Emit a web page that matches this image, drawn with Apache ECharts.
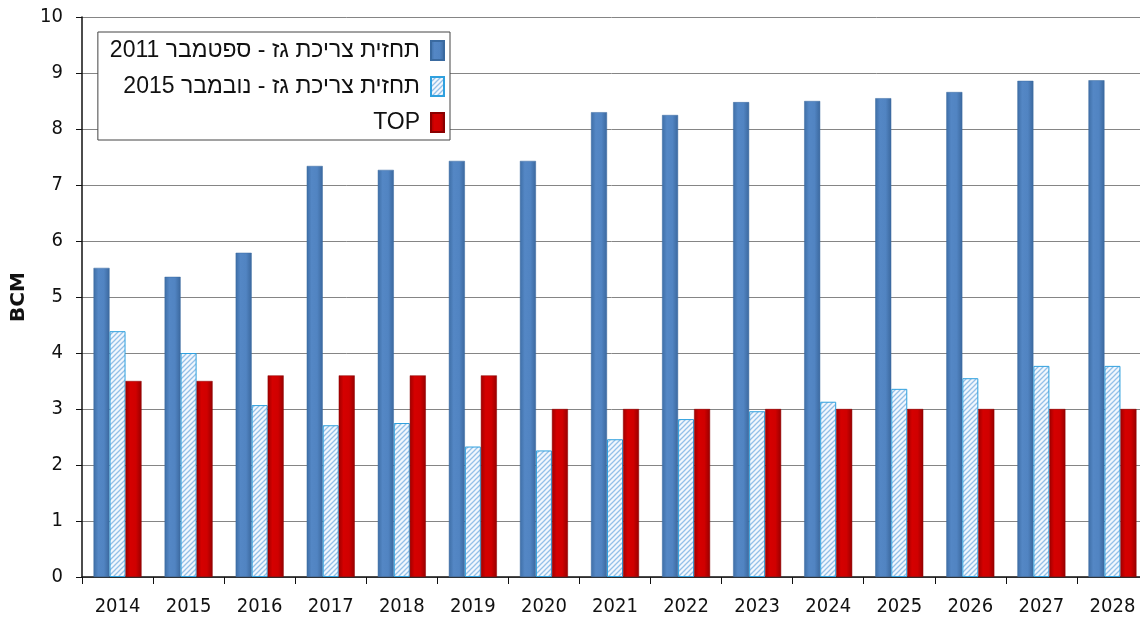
<!DOCTYPE html>
<html>
<head>
<meta charset="utf-8">
<script src="https://cdn.jsdelivr.net/npm/echarts@6/dist/echarts.min.js"></script>
<style>
html,body{margin:0;padding:0;background:#fff;}
#c{width:1140px;height:618px;}
</style>
</head>
<body>
<div id="c"></div>
<script>
var years = ['2014','2015','2016','2017','2018','2019','2020','2021','2022','2023','2024','2025','2026','2027','2028'];
var forecast2011 = [5.52,5.36,5.79,7.34,7.27,7.43,7.43,8.30,8.25,8.48,8.50,8.55,8.66,8.86,8.87];
var forecast2015 = [4.39,4.00,3.07,2.71,2.75,2.33,2.26,2.46,2.82,2.96,3.13,3.36,3.55,3.77,3.77];
var top_ = [3.5,3.5,3.6,3.6,3.6,3.6,3.0,3.0,3.0,3.0,3.0,3.0,3.0,3.0,3.0];
var seriesNames = ['תחזית צריכת גז - ספטמבר 2011','תחזית צריכת גז - נובמבר 2015','TOP'];

// hatch pattern
var pc = document.createElement('canvas');
pc.width = 5; pc.height = 5;
var g = pc.getContext('2d');
g.fillStyle = '#F2F7FD';
g.fillRect(0,0,5,5);
g.strokeStyle = '#94C0E8';
g.lineWidth = 1.3;
g.beginPath();
g.moveTo(-1,6); g.lineTo(6,-1);
g.moveTo(-4,4); g.lineTo(4,-4);
g.moveTo(1,9); g.lineTo(9,1);
g.stroke();

var blueGrad = new echarts.graphic.LinearGradient(0,0,1,0,[
  {offset:0,color:'#3E6EA6'},{offset:0.3,color:'#5487C5'},{offset:0.65,color:'#5184C2'},{offset:1,color:'#3B689E'}]);
var redGrad = new echarts.graphic.LinearGradient(0,0,1,0,[
  {offset:0,color:'#A00000'},{offset:0.3,color:'#D50000'},{offset:0.65,color:'#D00000'},{offset:1,color:'#980000'}]);

var axisFont = 'DejaVu Sans Condensed, DejaVu Sans';
var chart = echarts.init(document.getElementById('c'), null, {renderer:'canvas'});
chart.setOption({
  animation:false,
  backgroundColor:'#fff',
  textStyle:{fontFamily:axisFont},
  grid:{left:82, right:-8, top:17, bottom:41, containLabel:false, outerBoundsMode:'none'},
  legend:{
    orient:'vertical', right:690, top:32, align:'right',
    backgroundColor:'#fff', borderColor:'#444', borderWidth:1,
    padding:[7,5,6,12], itemGap:13, itemWidth:13, itemHeight:19, icon:'rect',
    textStyle:{fontSize:23, lineHeight:20, color:'#111', fontFamily:'Liberation Sans, DejaVu Sans', padding:[0,6,0,0]},
    data:seriesNames
  },
  xAxis:{
    type:'category', data:years,
    axisLine:{lineStyle:{color:'#111', width:1.5}},
    axisTick:{show:true, length:7, inside:false, lineStyle:{color:'#111'}},
    axisLabel:{fontSize:20, color:'#111', margin:20, fontFamily:axisFont}
  },
  yAxis:{
    type:'value', min:0, max:10, interval:1,
    name:'BCM', nameLocation:'middle', nameGap:50,
    nameTextStyle:{fontSize:20, fontWeight:'bold', color:'#111', fontFamily:'DejaVu Sans'},
    axisLine:{show:true, lineStyle:{color:'#111', width:1.5}},
    axisTick:{show:true, length:6, lineStyle:{color:'#111'}},
    axisLabel:{fontSize:20, color:'#111', margin:19, fontFamily:axisFont},
    splitLine:{lineStyle:{color:'#858585', width:1}}
  },
  series:[
    {name:seriesNames[0], type:'bar', data:forecast2011, barWidth:16, barGap:'0%',
     itemStyle:{color:blueGrad, borderColor:'#3A6AA0', borderWidth:0.5}},
    {name:seriesNames[1], type:'bar', data:forecast2015, barWidth:16, barGap:'0%',
     itemStyle:{color:{image:pc, repeat:'repeat'}, borderColor:'#2FA0DE', borderWidth:1}},
    {name:seriesNames[2], type:'bar', data:top_, barWidth:16, barGap:'0%',
     itemStyle:{color:redGrad, borderColor:'#8A0000', borderWidth:0.5}}
  ]
});
</script>
</body>
</html>
